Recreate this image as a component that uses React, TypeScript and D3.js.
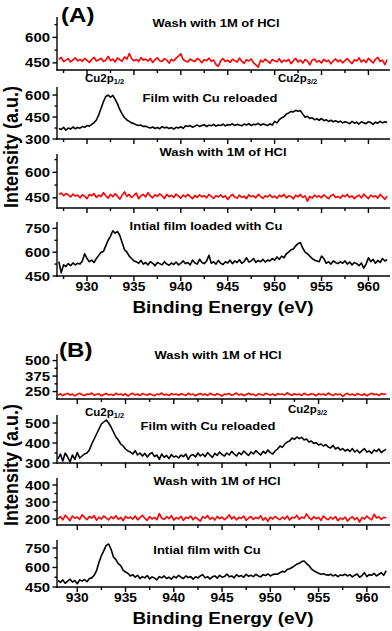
import React from 'react'
import * as d3 from 'd3'

// XPS Cu2p spectra, 0.25 eV per point
const STEP = 0.25
const startA = 927
const startB = 928

const xTicks = [930, 935, 940, 945, 950, 955, 960]
const xMinorTicks = [927.5, 932.5, 937.5, 942.5, 947.5, 952.5, 957.5]

// panel (A)
const washA1 = [
  470,482,458,466,475,455,468,480,462,471,
  459,476,465,452,470,483,461,468,477,458,
  466,488,463,472,455,479,467,460,485,471,
  505,476,462,470,458,481,466,473,460,477,
  452,469,480,463,458,475,466,449,471,462,
  478,490,503,470,461,455,472,464,458,476,
  467,451,470,462,478,459,466,440,430,462,
  475,458,466,452,471,463,455,478,460,447,
  469,461,473,450,438,425,466,455,472,460,
  448,470,462,456,475,452,466,459,471,445,
  463,476,455,467,449,470,460,438,466,472,
  455,463,449,471,458,466,444,462,473,456,
  467,450,463,475,458,446,468,461,479,455,
  468,452,476,463,449,471,482,458,466,440,470,
]
const reloadA = [
  372,365,380,360,375,368,382,370,378,374,
  385,380,392,388,400,412,430,465,510,555,
  590,600,585,598,570,540,500,470,445,430,
  420,410,405,398,392,395,385,388,380,375,
  382,372,378,370,385,376,380,372,378,368,
  380,375,384,372,390,385,392,380,388,395,
  386,392,398,385,395,390,400,388,396,392,
  402,390,398,395,404,392,400,396,390,402,
  396,405,392,400,398,406,394,402,398,392,
  404,395,420,410,432,445,452,470,478,488,
  485,496,490,494,470,448,455,440,445,432,
  438,428,440,425,432,420,428,418,425,415,
  422,410,418,412,405,420,408,415,402,418,
  410,405,418,412,400,415,408,420,410,418,412,
]
const washA2 = [
  470,478,462,475,468,455,472,460,466,450,
  468,458,445,470,462,475,452,466,458,480,
  462,448,470,456,474,460,442,466,485,458,
  470,452,465,478,445,462,470,455,480,462,
  450,468,458,474,462,446,470,456,465,452,
  472,460,448,466,455,470,458,445,464,452,
  468,456,462,450,470,458,446,463,455,468,
  452,462,440,458,470,455,448,466,452,460,
  445,468,456,462,450,470,458,446,462,455,
  468,452,460,448,465,456,470,450,462,458,
  444,466,455,470,452,462,430,458,448,466,
  455,462,450,468,456,445,462,470,452,458,
  448,465,456,470,452,462,445,458,466,450,
  472,458,445,466,455,462,448,470,456,442,460,
]
const initialA = [
  540,470,520,510,528,515,532,520,530,525,
  545,590,560,540,550,535,560,580,600,605,
  640,675,700,735,720,730,705,660,615,600,
  575,560,545,540,530,548,525,535,520,540,
  530,515,535,528,520,540,525,518,532,522,
  538,520,530,545,528,535,520,550,532,525,
  555,535,528,545,580,530,540,525,548,530,
  522,540,532,550,528,545,535,552,530,540,
  565,538,545,560,535,548,540,555,538,550,
  545,560,550,570,555,575,565,590,600,615,
  620,640,655,660,625,600,590,575,560,550,
  545,540,575,560,530,540,525,545,535,528,
  540,530,545,525,538,520,535,528,515,532,
  500,525,565,540,555,530,548,535,560,545,552,
]

// panel (B)
const washB1 = [
  220,232,218,228,235,222,230,215,228,236,
  224,218,230,226,238,220,228,232,216,226,
  234,222,228,218,236,225,230,220,232,214,
  228,236,222,230,218,234,226,220,232,224,
  216,230,226,238,222,228,218,234,224,230,
  220,232,226,218,236,224,230,216,228,234,
  222,230,218,236,226,220,232,224,214,230,
  226,234,220,228,238,222,230,218,226,236,
  224,230,216,232,226,220,236,228,222,230,
  218,234,226,230,222,240,228,220,232,224,
  230,218,236,226,222,232,228,216,234,224,
  230,220,238,226,218,232,225,230,210,228,
  236,222,230,218,234,226,220,232,216,228,
  236,224,230,218,234,226,232,
]
const reloadB = [
  320,345,310,350,330,305,340,318,352,325,
  335,345,350,365,395,420,445,470,495,505,
  515,500,480,455,430,415,395,385,370,360,
  355,345,362,340,350,335,348,330,345,352,
  332,340,318,345,328,338,322,342,330,335,
  325,340,332,345,318,338,342,330,350,335,
  345,332,352,340,328,348,338,355,342,335,
  350,340,358,345,335,352,342,360,348,338,
  355,345,362,350,340,358,348,365,352,345,
  360,370,385,378,395,405,410,425,418,430,
  422,428,415,420,405,410,398,402,390,395,
  385,392,380,375,388,370,378,365,372,360,
  368,358,372,355,365,350,362,372,355,360,
  348,365,358,370,352,362,368,
]
const washB2 = [
  200,215,195,222,208,190,218,205,212,198,
  225,210,196,215,205,220,192,212,200,218,
  206,195,214,202,220,198,210,190,216,205,
  212,200,218,195,208,222,204,192,214,200,
  210,196,232,205,198,214,202,220,194,208,
  200,216,192,210,204,218,196,212,200,188,
  214,205,220,198,210,194,216,202,212,196,
  208,225,200,214,195,210,204,218,192,206,
  215,198,210,202,220,194,208,186,212,200,
  216,204,196,212,200,218,194,210,206,222,
  198,212,204,230,208,196,214,202,210,192,
  218,204,196,212,200,215,190,206,198,212,
  188,204,214,196,208,182,210,200,218,204,
  195,228,206,214,198,210,206,
]
const initialB = [
  500,485,505,478,495,510,488,500,475,505,
  495,508,490,515,520,540,575,640,690,730,
  770,780,740,680,660,630,615,580,565,555,
  535,545,525,540,515,530,520,538,512,528,
  518,505,530,520,535,515,525,510,532,520,
  540,525,515,535,522,530,510,528,520,535,
  545,520,530,512,528,535,518,540,525,530,
  550,528,535,520,545,530,538,525,548,532,
  540,530,548,535,528,545,538,550,535,545,
  550,548,560,570,565,585,590,600,612,625,
  632,645,650,630,615,590,575,565,555,548,
  552,545,540,548,535,545,530,542,538,548,
  535,545,528,540,550,525,538,560,530,545,
  540,555,535,548,560,540,575,
]

const yTicksA = [[450, 600], [300, 450, 600], [450, 600], [450, 600, 750]]
const yTicksB = [[250, 375, 500], [300, 400, 500], [200, 300, 400], [450, 600, 750]]
const titlesA = ['Wash with 1M of HCl', 'Film with Cu reloaded', 'Wash with 1M of HCl', 'Intial film loaded with Cu']
const titlesB = ['Wash with 1M of HCl', 'Film with Cu reloaded', 'Wash with 1M of HCl', 'Intial film with Cu']

const FONT = 'Arial, "Liberation Sans", Helvetica, sans-serif'
const SX = 1.15 // the original picture is a bit wider than tall
const RED = '#ff0000'
const AX_L = 57
const AX_R = 390

function SText({ x, y, size, anchor = 'start', rotate = false, children }: any) {
  const t = `translate(${x},${y}) scale(${SX},1)` + (rotate ? ' rotate(-90)' : '')
  return (
    <text transform={t} fontSize={size} fontWeight="bold" textAnchor={anchor} fontFamily={FONT} fill="#000">
      {children}
    </text>
  )
}

function Sub({ values, start, xDomain, yDomain, top, bottom, ticks, color, title, titleX, titleY, labels }: any) {
  const x = d3.scaleLinear().domain(xDomain).range([AX_L, AX_R])
  const y = d3.scaleLinear().domain(yDomain).range([bottom, top])
  const line = d3.line<number>().x((d, i) => x(start + i * STEP)).y(d => y(d))
  const step = ticks[1] - ticks[0]
  const minor = d3.range(ticks[0] - step / 2, yDomain[1], step).filter(v => v > yDomain[0] && v < yDomain[1])
  const xIn = (v: number) => v >= xDomain[0] && v <= xDomain[1]
  return (
    <g>
      <path d={line(values) || ''} fill="none" stroke={color} strokeWidth={1.6} strokeLinejoin="round" />
      <g stroke="#000" strokeWidth={1.4}>
        <line x1={AX_L} x2={AX_L} y1={top} y2={bottom + 0.7} />
        <line x1={AX_L - 0.7} x2={AX_R} y1={bottom} y2={bottom} />
        {ticks.map((t: number) => <line key={'y' + t} x1={AX_L - 4.5} x2={AX_L} y1={y(t)} y2={y(t)} />)}
        {minor.map((t: number) => <line key={'m' + t} x1={AX_L - 2.5} x2={AX_L} y1={y(t)} y2={y(t)} />)}
        {xTicks.filter(xIn).map(t => <line key={'x' + t} x1={x(t)} x2={x(t)} y1={bottom} y2={bottom + 5} />)}
        {xMinorTicks.filter(xIn).map(t => <line key={'n' + t} x1={x(t)} x2={x(t)} y1={bottom} y2={bottom + 3} />)}
      </g>
      {ticks.map((t: number) => (
        <SText key={'l' + t} x={50} y={y(t) + 4.6} size={13} anchor="end">{t}</SText>
      ))}
      {labels && xTicks.filter(xIn).map(t => (
        <SText key={'xl' + t} x={x(t)} y={bottom + 15} size={12} anchor="middle">{t}</SText>
      ))}
      <SText x={titleX} y={titleY} size={11.3} anchor="middle">{title}</SText>
    </g>
  )
}

function CuLabel({ x, y, sub }: any) {
  return (
    <text transform={`translate(${x},${y}) scale(${SX},1)`} fontSize={10} fontWeight="bold" fontFamily={FONT}>
      Cu2p<tspan fontSize={6.5} dy={2}>{sub}</tspan>
    </text>
  )
}

export default function App() {
  const xA = [926.8, 962.3]
  const xB = [927.9, 962.4]
  const panelA = [
    { values: washA1, color: RED, yDomain: [408, 720], top: 17, bottom: 70, titleX: 216, titleY: 27 },
    { values: reloadA, color: '#000', yDomain: [300, 655], top: 87, bottom: 139, titleX: 210, titleY: 102 },
    { values: washA2, color: RED, yDomain: [390, 708], top: 154, bottom: 208, titleX: 223, titleY: 156 },
    { values: initialA, color: '#000', yDomain: [450, 790], top: 222, bottom: 276, titleX: 206, titleY: 230 },
  ]
  const panelB = [
    { values: washB1, color: RED, yDomain: [190, 553], top: 354, bottom: 399, titleX: 218, titleY: 359 },
    { values: reloadB, color: '#000', yDomain: [300, 540], top: 415, bottom: 463, titleX: 208, titleY: 430 },
    { values: washB2, color: RED, yDomain: [165, 441], top: 478, bottom: 525, titleX: 217, titleY: 485 },
    { values: initialB, color: '#000', yDomain: [450, 811], top: 540, bottom: 587, titleX: 207, titleY: 554 },
  ]
  return (
    <svg width={392} height={631} style={{ position: 'absolute', left: 0, top: 0, background: '#fff' }}>
      <rect width={392} height={631} fill="#fff" />
      {panelA.map((p, i) => (
        <Sub key={'a' + i} {...p} start={startA} xDomain={xA} ticks={yTicksA[i]} title={titlesA[i]} labels={i === 3} />
      ))}
      {panelB.map((p, i) => (
        <Sub key={'b' + i} {...p} start={startB} xDomain={xB} ticks={yTicksB[i]} title={titlesB[i]} labels={i === 3} />
      ))}
      <CuLabel x={85} y={82} sub="1/2" />
      <CuLabel x={278} y={82} sub="3/2" />
      <CuLabel x={85} y={416} sub="1/2" />
      <CuLabel x={288} y={413} sub="3/2" />
      <SText x={61} y={22} size={21}>(A)</SText>
      <SText x={59} y={357} size={21}>(B)</SText>
      <SText x={223} y={313} size={16.5} anchor="middle">Binding Energy (eV)</SText>
      <SText x={223} y={624} size={16.5} anchor="middle">Binding Energy (eV)</SText>
      <SText x={18} y={147} size={18} anchor="middle" rotate>Intensity (a.u.)</SText>
      <SText x={18} y={465} size={18} anchor="middle" rotate>Intensity (a.u.)</SText>
    </svg>
  )
}
